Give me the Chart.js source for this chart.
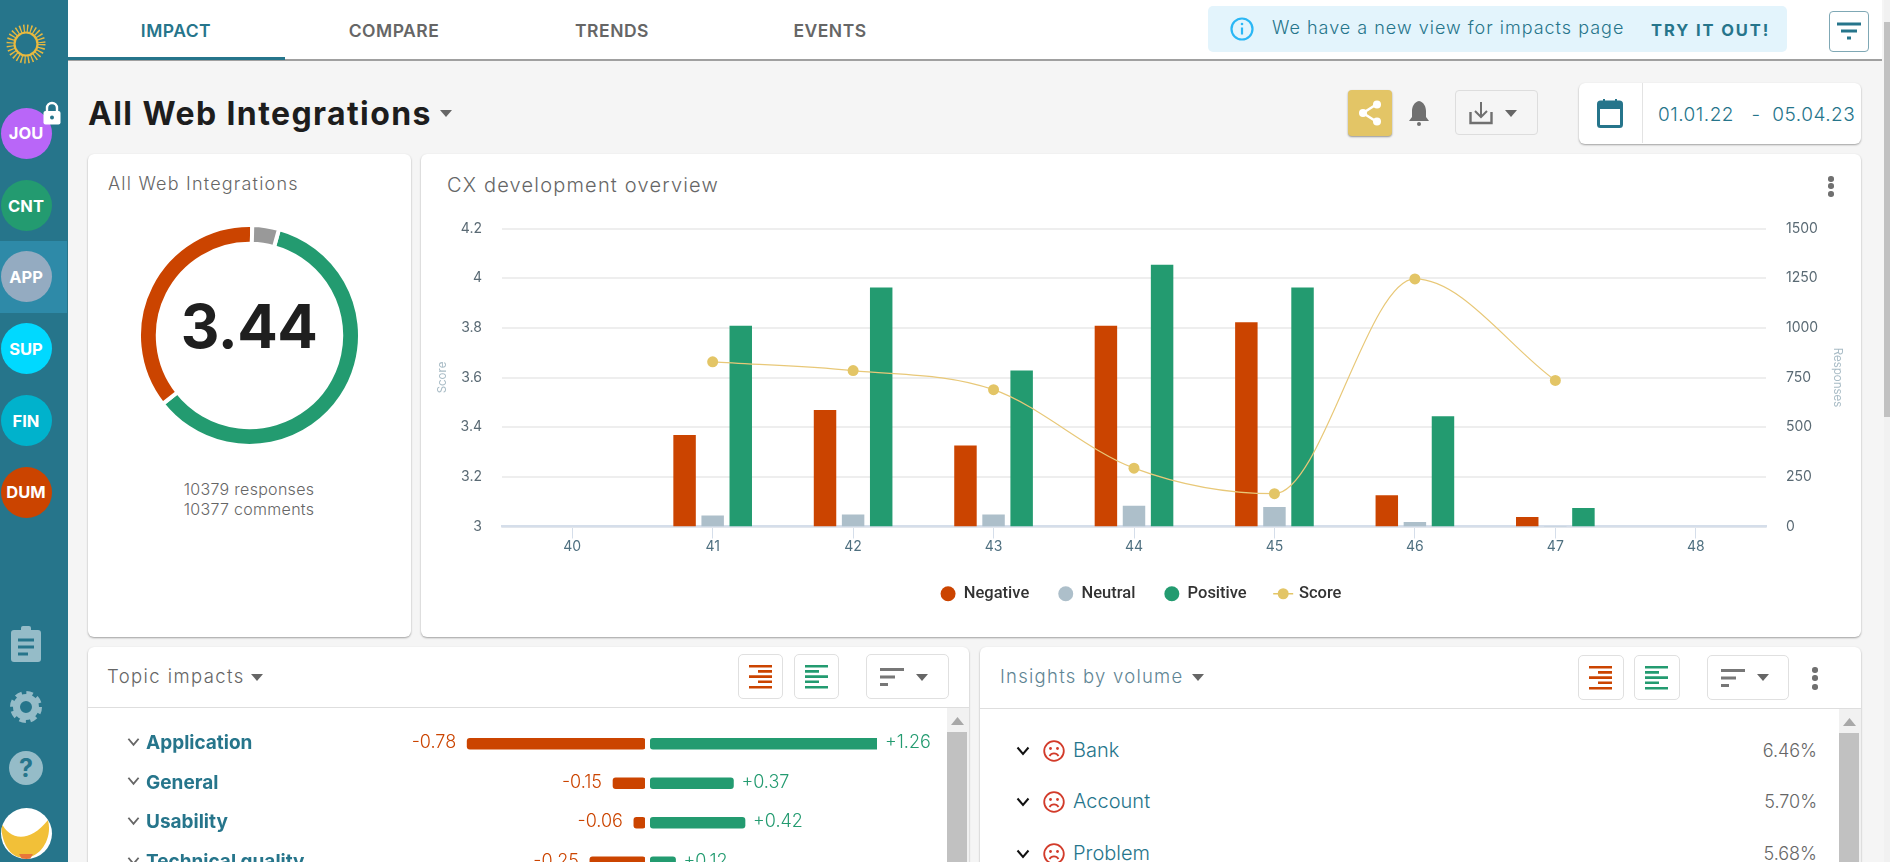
<!DOCTYPE html>
<html><head><meta charset="utf-8">
<script src="https://cdn.jsdelivr.net/npm/chart.js@4"></script>
<style>
html,body{margin:0;padding:0;width:1890px;height:862px;overflow:hidden;background:#f5f5f5;font-family:Inter,sans-serif}
.a{position:absolute;box-sizing:border-box}
.t{position:absolute;white-space:nowrap;transform:translateY(-50%)}
.c{position:absolute;white-space:nowrap;transform:translate(-50%,-50%)}
.r{position:absolute;white-space:nowrap;transform:translate(-100%,-50%)}
.card{position:absolute;background:#fff;border-radius:6px;box-shadow:0 1px 2px rgba(0,0,0,.35)}
.av{position:absolute;left:0.5px;width:51px;height:51px;border-radius:50%;color:#fff;font-weight:700;font-size:16.5px;display:flex;align-items:center;justify-content:center}
.tab{position:absolute;top:30px;transform:translate(-50%,-50%);font-weight:600;font-size:17.5px;color:#666;letter-spacing:.5px}
.btn{position:absolute;background:#fff;border:1px solid #e0e0e0;border-radius:5px;box-sizing:border-box}
canvas{position:absolute;display:block}
svg{position:absolute;overflow:visible}
.caret{position:absolute;width:0;height:0;border-left:6px solid transparent;border-right:6px solid transparent;border-top:7px solid #666}
.dot3{position:absolute;width:5.5px;height:5.5px;border-radius:50%;background:#707070}
</style></head><body>
<div class="a" style="left:0;top:0;width:68px;height:862px;background:#26758b"></div>
<div class="a" style="left:0;top:241px;width:67px;height:72px;background:#2e8aa8"></div>
<svg style="left:0;top:18px" width="52" height="52" viewBox="0 0 52 52"><circle cx="26" cy="26" r="15.5" fill="none" stroke="#e8b93f" stroke-width="8" stroke-dasharray="1.3 2.2"/><circle cx="26" cy="26" r="11.5" fill="#26758b" stroke="#e8b93f" stroke-width="2.2"/></svg>
<div class="av" style="top:107.5px;background:#b966f8">JOU</div>
<svg style="left:42px;top:101px" width="20" height="24" viewBox="0 0 20 24"><path d="M5 11V7a5 5 0 0 1 10 0v4" fill="none" stroke="#fff" stroke-width="2.4"/><rect x="1.5" y="10" width="17" height="13.5" rx="2" fill="#fff"/><circle cx="10" cy="16.5" r="2" fill="#26758b"/></svg>
<div class="av" style="top:180px;background:#239b70">CNT</div>
<div class="av" style="top:251px;background:#94abc1">APP</div>
<div class="av" style="top:323px;background:#00d9ff">SUP</div>
<div class="av" style="top:395px;background:#00b2cc">FIN</div>
<div class="av" style="top:466.5px;background:#cb4400">DUM</div>
<svg style="left:10px;top:626px" width="32" height="36" viewBox="0 0 32 36"><rect x="1" y="4" width="30" height="32" rx="3" fill="#95bcc8"/><rect x="11" y="0" width="10" height="7" rx="2" fill="#95bcc8"/><path d="M8 14h16M8 21h16M8 28h10" stroke="#26758b" stroke-width="3"/></svg>
<svg style="left:10px;top:690px" width="32" height="34" viewBox="0 0 32 34"><circle cx="16" cy="17" r="9.5" fill="none" stroke="#95bcc8" stroke-width="7"/><circle cx="16" cy="17" r="13" fill="none" stroke="#95bcc8" stroke-width="6" stroke-dasharray="6 4.2"/></svg>
<svg style="left:9px;top:751px" width="34" height="34" viewBox="0 0 34 34"><circle cx="17" cy="17" r="17" fill="#95bcc8"/><text x="17" y="26" text-anchor="middle" font-size="25" font-weight="700" fill="#26758b" font-family="Inter">?</text></svg>
<div class="a" style="left:0.5px;top:808px;width:51px;height:51px;border-radius:50%;background:#fff;overflow:hidden"><svg style="left:0;top:0" width="51" height="51" viewBox="0 0 51 51"><path d="M0 14C8 32 28 36 47 12C52 32 38 50 24 50C8 50 0 34 0 14Z" fill="#f2c038"/><path d="M18 46h14l-3 5h-8z" fill="#e8763a"/></svg></div>

<div class="a" style="left:68px;top:0;width:1814px;height:61px;background:#fff;border-bottom:2px solid #a0a0a0"></div>
<div class="a" style="left:68px;top:57px;width:217px;height:3px;background:#26758b"></div>
<div class="tab" style="left:176px;color:#26758b">IMPACT</div>
<div class="tab" style="left:394px">COMPARE</div>
<div class="tab" style="left:612px">TRENDS</div>
<div class="tab" style="left:830px">EVENTS</div>
<div class="a" style="left:1208px;top:6px;width:579px;height:46px;background:#e3f4fc;border-radius:5px"></div>
<svg style="left:1230px;top:17px" width="24" height="24" viewBox="0 0 24 24"><circle cx="12" cy="12" r="10.5" fill="none" stroke="#2ab7f5" stroke-width="2.2"/><path d="M12 10.5v7" stroke="#2ab7f5" stroke-width="2.2"/><circle cx="12" cy="7" r="1.3" fill="#2ab7f5"/></svg>
<div class="t" style="left:1272px;top:27px;font-size:18px;color:#26758b;font-weight:300;letter-spacing:1px">We have a new view for impacts page</div>
<div class="t" style="left:1651px;top:30px;font-size:16.5px;color:#26758b;font-weight:700;letter-spacing:1.9px">TRY IT OUT!</div>
<div class="a" style="left:1829px;top:11px;width:40px;height:41px;border:1px solid #7fa8b5;border-radius:4px;background:#fff"></div>
<svg style="left:1837px;top:22px" width="24" height="18" viewBox="0 0 24 18"><path d="M0 2h24M4 9h16M10 16h4" stroke="#26758b" stroke-width="3"/></svg>
<div class="a" style="left:1884px;top:0;width:6px;height:862px;background:#f1f1f1"></div>
<div class="a" style="left:1884px;top:22px;width:6px;height:395px;background:#c1c1c1"></div>

<div class="t" style="left:88px;top:113px;font-size:32px;font-weight:700;color:#1d1d1d;letter-spacing:1.4px">All Web Integrations</div>
<div class="caret" style="left:440px;top:110px"></div>
<div class="a" style="left:1348px;top:90px;width:44px;height:46px;background:#e3c566;border-radius:4px;box-shadow:0 1px 2px rgba(0,0,0,.4)"></div>
<svg style="left:1358px;top:100px" width="24" height="26" viewBox="0 0 24 26"><path d="M19 4L5 13l14 9" fill="none" stroke="#fff" stroke-width="2.5"/><circle cx="19" cy="4.5" r="4" fill="#fff"/><circle cx="5" cy="13" r="4" fill="#fff"/><circle cx="19" cy="21.5" r="4" fill="#fff"/></svg>
<svg style="left:1408px;top:100px" width="22" height="26" viewBox="0 0 22 26"><path d="M11 1c5 1 7 6 7 10v6l3 4H1l3-4v-6c0-4 2-9 7-10z" fill="#707070"/><circle cx="11" cy="24" r="2" fill="#707070"/></svg>
<div class="a" style="left:1455px;top:90px;width:83px;height:45px;border:1px solid #ddd;border-radius:4px"></div>
<svg style="left:1469px;top:101px" width="24" height="24" viewBox="0 0 24 24"><path d="M12 1v15M6 10l6 6 6-6" fill="none" stroke="#707070" stroke-width="2"/><path d="M1.5 11v11h21V11" fill="none" stroke="#707070" stroke-width="2.4"/></svg>
<div class="caret" style="left:1505px;top:110px"></div>
<div class="card" style="left:1579px;top:83px;width:282px;height:61px"></div>
<div class="a" style="left:1641.5px;top:83px;width:1px;height:60px;background:#e3e3e3"></div>
<svg style="left:1597px;top:99px" width="26" height="29" viewBox="0 0 26 29"><rect x="1.5" y="3" width="23" height="24.5" rx="2" fill="none" stroke="#26758b" stroke-width="3"/><rect x="1.5" y="3" width="23" height="7" fill="#26758b"/><path d="M7 0v4M19 0v4" stroke="#26758b" stroke-width="2"/></svg>
<div class="t" style="left:1658px;top:114px;font-size:19px;font-weight:300;color:#26758b;letter-spacing:.5px">01.01.22&nbsp;&nbsp;&nbsp;-&nbsp;&nbsp;05.04.23</div>

<div class="card" style="left:88px;top:154px;width:323px;height:483px"></div>
<div class="card" style="left:421px;top:154px;width:1440px;height:483px"></div>
<div class="t" style="left:108px;top:183px;font-size:18px;font-weight:300;color:#666;letter-spacing:1.2px">All Web Integrations</div>
<div class="t" style="left:447px;top:185px;font-size:20px;font-weight:300;color:#666;letter-spacing:1.2px">CX development overview</div>
<div class="dot3" style="left:1828px;top:176px"></div><div class="dot3" style="left:1828px;top:183px"></div><div class="dot3" style="left:1828px;top:191px"></div>
<canvas id="donut" style="left:136.5px;top:222.5px" width="225" height="225"></canvas>
<div class="c" style="left:249px;top:326px;font-size:60px;font-weight:700;color:#1f1f1f;letter-spacing:-.5px">3.44</div>
<div class="c" style="left:249px;top:489px;font-size:16px;font-weight:300;color:#666;letter-spacing:.3px">10379 responses</div>
<div class="c" style="left:249px;top:509px;font-size:16px;font-weight:300;color:#666;letter-spacing:.3px">10377 comments</div>
<canvas id="main" style="left:421px;top:200px" width="1440" height="420"></canvas>

<div class="card" style="left:88px;top:647px;width:881px;height:240px"></div>
<div class="card" style="left:980px;top:647px;width:881px;height:240px"></div>
<div class="a" style="left:88px;top:707px;width:881px;height:1px;background:#dedede"></div>
<div class="a" style="left:980px;top:708px;width:881px;height:1px;background:#dedede"></div>
<svg width="0" height="0"><defs>
<symbol id="sr" viewBox="0 0 23 24"><path d="M0 1.2h23M9 6.4h14M0 11.6h23M9 16.8h14M0 22.2h23" stroke="#cb4400" stroke-width="2.6"/></symbol>
<symbol id="sg" viewBox="0 0 23 24"><path d="M0 1.2h23M0 6.4h14M0 11.6h23M0 16.8h14M0 22.2h23" stroke="#239b70" stroke-width="2.6"/></symbol>
<symbol id="ss" viewBox="0 0 24 18"><path d="M0 1.5h24M0 9h15M0 16.5h8" stroke="#777" stroke-width="3"/></symbol>
<symbol id="face" viewBox="0 0 22 22"><circle cx="11" cy="11" r="9.8" fill="none" stroke="#d23b2a" stroke-width="1.8"/><circle cx="7.5" cy="8.5" r="1.4" fill="#d23b2a"/><circle cx="14.5" cy="8.5" r="1.4" fill="#d23b2a"/><path d="M6.5 16c2-3.5 7-3.5 9 0" fill="none" stroke="#d23b2a" stroke-width="1.8"/></symbol>
<symbol id="chev" viewBox="0 0 14 10"><path d="M1.5 1.5L7 8l5.5-6.5" fill="none" stroke="currentColor" stroke-width="2"/></symbol>
</defs></svg>
<div class="t" style="left:107px;top:676px;font-size:18.5px;font-weight:300;color:#666;letter-spacing:1.4px">Topic impacts</div>
<div class="caret" style="left:251px;top:674px"></div>
<div class="btn" style="left:738px;top:654px;width:45px;height:45px"></div><svg style="left:749px;top:665px" width="23" height="24"><use href="#sr"/></svg>
<div class="btn" style="left:794px;top:654px;width:45px;height:45px"></div><svg style="left:805px;top:665px" width="23" height="24"><use href="#sg"/></svg>
<div class="btn" style="left:866px;top:654px;width:83px;height:45px"></div><svg style="left:880px;top:668px" width="24" height="18"><use href="#ss"/></svg><div class="caret" style="left:916px;top:674px"></div>
<div class="t" style="left:1000px;top:676px;font-size:18.5px;font-weight:300;color:#5f8594;letter-spacing:1.25px">Insights by volume</div>
<div class="caret" style="left:1192px;top:674px"></div>
<div class="btn" style="left:1578px;top:655px;width:46px;height:45px"></div><svg style="left:1589px;top:666px" width="23" height="24"><use href="#sr"/></svg>
<div class="btn" style="left:1634px;top:655px;width:46px;height:45px"></div><svg style="left:1645px;top:666px" width="23" height="24"><use href="#sg"/></svg>
<div class="btn" style="left:1707px;top:655px;width:82px;height:45px"></div><svg style="left:1721px;top:669px" width="24" height="18"><use href="#ss"/></svg><div class="caret" style="left:1757px;top:674px"></div>
<div class="dot3" style="left:1812px;top:667px"></div><div class="dot3" style="left:1812px;top:675px"></div><div class="dot3" style="left:1812px;top:684px"></div>

<div class="a" style="left:947px;top:708px;width:22px;height:154px;background:#f1f1f1"></div>
<svg style="left:951px;top:717px" width="13" height="8"><path d="M6.5 0L13 8H0z" fill="#a8a8a8"/></svg>
<div class="a" style="left:947px;top:732px;width:20px;height:130px;background:#c1c1c1"></div>
<div class="a" style="left:1839px;top:709px;width:22px;height:153px;background:#f1f1f1"></div>
<svg style="left:1843px;top:718px" width="13" height="8"><path d="M6.5 0L13 8H0z" fill="#a8a8a8"/></svg>
<div class="a" style="left:1839px;top:733px;width:20px;height:129px;background:#c1c1c1"></div>

<svg style="left:126.5px;top:737px;color:#666" width="13" height="10"><use href="#chev"/></svg>
<svg style="left:126.5px;top:776px;color:#666" width="13" height="10"><use href="#chev"/></svg>
<svg style="left:126.5px;top:816px;color:#666" width="13" height="10"><use href="#chev"/></svg>
<svg style="left:126.5px;top:856px;color:#666" width="13" height="10"><use href="#chev"/></svg>
<canvas id="impacts" style="left:146px;top:723.5px" width="820" height="158"></canvas>
<div id="insights"></div>

<script>
// ---- CX development overview ----
const weeks = ['40','41','42','43','44','45','46','47','48'];
const negativeCounts = [null, 460, 587, 408, 1010, 1028, 157, 48, null];
const neutralCounts  = [null, 55, 60, 60, 105, 98, 23, 2, null];
const positiveCounts = [null, 1010, 1203, 785, 1318, 1203, 555, 93, null];
const scoreValues    = [null, 3.663, 3.628, 3.551, 3.235, 3.132, 3.997, 3.588, null];
// ---- Overall donut ----
const donutLabels = ['Positive','Negative','Neutral'];
const donutValues = [6167, 3698, 401];
// ---- Topic impacts ----
const topics = ['Application','General','Usability','Technical quality'];
const topicNegative = [-0.78, -0.15, -0.06, -0.25];
const topicPositive = [1.26, 0.37, 0.42, 0.12];
// ---- Insights ----
const insightNames = ['Bank','Account','Problem'];
const insightShares = ['6.46%','5.70%','5.68%'];

const RED='#cb4400', GREEN='#239b70', GREY='#adbfca', GOLD='#e3c566';
Chart.defaults.font.family='Inter, sans-serif';
Chart.defaults.animation=false;
Chart.defaults.responsive=false;
Chart.defaults.devicePixelRatio=1;

new Chart(document.getElementById('donut'),{type:'doughnut',
  data:{labels:donutLabels,datasets:[{data:donutValues,backgroundColor:[GREEN,RED,'#999999'],borderColor:'#fff',borderWidth:4}]},
  options:{rotation:15.5,cutout:'83%',layout:{padding:0},plugins:{legend:{display:false},tooltip:{enabled:false}}}});

const scoreLegend={id:'scoreLegend',afterDraw(ch){
  const lg=ch.legend; if(!lg||!lg.legendHitBoxes)return;
  const h=lg.legendHitBoxes[3]; const x=h.left+7.5,y=h.top+h.height/2; const c=ch.ctx;
  c.save();c.strokeStyle=GOLD;c.lineWidth=1.5;c.beginPath();c.moveTo(x-10,y);c.lineTo(x+10,y);c.stroke();
  c.fillStyle=GOLD;c.beginPath();c.arc(x,y,5.5,0,Math.PI*2);c.fill();c.restore();
}};
new Chart(document.getElementById('main'),{
  data:{labels:weeks,datasets:[
    {type:'bar',label:'Negative',data:negativeCounts,backgroundColor:RED,yAxisID:'y1',order:1,categoryPercentage:.6,barPercentage:.8},
    {type:'bar',label:'Neutral',data:neutralCounts,backgroundColor:GREY,yAxisID:'y1',order:1,categoryPercentage:.6,barPercentage:.8},
    {type:'bar',label:'Positive',data:positiveCounts,backgroundColor:GREEN,yAxisID:'y1',order:1,categoryPercentage:.6,barPercentage:.8},
    {type:'line',label:'Score',data:scoreValues,borderColor:'#e8c878',borderWidth:1.2,backgroundColor:GOLD,pointBackgroundColor:GOLD,pointBorderWidth:0,pointRadius:5.5,cubicInterpolationMode:'monotone',yAxisID:'y',order:0,fill:false}
  ]},
  options:{
    layout:{padding:{top:28.5,bottom:8}},
    plugins:{tooltip:{enabled:false},
      legend:{position:'bottom',labels:{usePointStyle:true,pointStyle:'circle',pointStyleWidth:15,boxHeight:10.6,color:'#333',padding:29,font:{family:'Roboto',size:16.5,weight:'500'},
        sort:(a,b)=>a.datasetIndex-b.datasetIndex,
        generateLabels(ch){const l=Chart.defaults.plugins.legend.labels.generateLabels(ch);const s=l.find(i=>i.text==='Score');s.fillStyle='rgba(0,0,0,0)';s.strokeStyle='rgba(0,0,0,0)';s.lineWidth=0;return l;}}}},
    scales:{
      x:{afterFit(s){s.height=30;},
        grid:{drawOnChartArea:false,drawTicks:true,tickLength:12,tickColor:'#d5deea',tickWidth:1,offset:false},
        border:{color:'#d5deea',width:2.5},
        ticks:{color:'#4f7080',padding:0,font:{size:14},maxRotation:0}},
      y:{position:'left',min:3,max:4.2,afterFit(s){s.width=81;},
        grid:{color:'#eeeeee',lineWidth:2,drawTicks:false},border:{display:false},
        ticks:{stepSize:.2,padding:20,color:'#5a6a74',font:{size:14},callback:v=>String(+(+v).toFixed(1))},
        title:{display:true,text:'Score',color:'#a9bcc6',font:{size:11.5},padding:{top:15,bottom:0}}},
      y1:{position:'right',min:0,max:1500,afterFit(s){s.width=95;},
        grid:{display:false,drawTicks:false},border:{display:false},
        ticks:{stepSize:250,padding:20,color:'#5a6a74',font:{size:14},callback:v=>String(v)},
        title:{display:true,text:'Responses',color:'#a9bcc6',font:{size:11.5},padding:{top:17,bottom:0}}}
    }},
  plugins:[scoreLegend]});

const impactText={id:'impactText',afterDraw(ch){
  const c=ch.ctx,xs=ch.scales.x,ys=ch.scales.y;
  c.save();c.font='300 18px Inter, sans-serif';c.textBaseline='middle';
  topics.forEach((t,i)=>{const y=ys.getPixelForValue(i);
    const nx=Math.max(xs.left,xs.getPixelForValue(topicNegative[i])),px=Math.min(xs.right,xs.getPixelForValue(topicPositive[i]));
    c.fillStyle=RED;c.textAlign='right';c.fillText(topicNegative[i].toFixed(2),nx-11,y-1);
    c.fillStyle=GREEN;c.textAlign='left';c.fillText('+'+topicPositive[i].toFixed(2),px+8,y-1);});
  c.restore();
}};
new Chart(document.getElementById('impacts'),{type:'bar',
  data:{labels:topics,datasets:[
    {label:'Negative',data:topicNegative,backgroundColor:RED},
    {label:'Positive',data:topicPositive,backgroundColor:GREEN}]},
  options:{indexAxis:'y',layout:{padding:{right:89}},
    datasets:{bar:{stack:'a',barThickness:11,borderRadius:3,borderSkipped:false}},
    plugins:{legend:{display:false},tooltip:{enabled:false}},
    scales:{
      x:{stacked:true,min:-0.8,max:0.99,display:true,border:{display:false},afterFit(s){s.height=0;s.paddingLeft=0;s.paddingRight=0;},
        grid:{drawOnChartArea:true,drawTicks:false,z:1,color:c=>c.tick.value===0?'#fff':'rgba(0,0,0,0)',lineWidth:5},ticks:{display:false,stepSize:.1}},
      y:{stacked:true,afterFit(s){s.width=316.5;s.paddingTop=0;s.paddingBottom=0;},border:{display:false},grid:{display:false,drawTicks:false},
        ticks:{crossAlign:'far',padding:0,color:'#26758b',font:{size:19,weight:'700'}}}
    }},
  plugins:[impactText]});

const holder=document.getElementById('insights');
const rowY=[750,801,853];
insightNames.forEach((n,i)=>{
  holder.insertAdjacentHTML('beforeend',
   `<svg style="left:1016px;top:${rowY[i]-4}px;color:#111" width="14" height="10"><use href="#chev"/></svg>`+
   `<svg style="left:1043px;top:${rowY[i]-10}px" width="22" height="22"><use href="#face"/></svg>`+
   `<div class="t" style="left:1073px;top:${rowY[i]}px;font-size:20px;font-weight:300;color:#26758b">${n}</div>`+
   `<div class="r" style="left:1817px;top:${rowY[i]}px;font-size:18px;font-weight:300;color:#666">${insightShares[i]}</div>`);
});
</script>
</body></html>
